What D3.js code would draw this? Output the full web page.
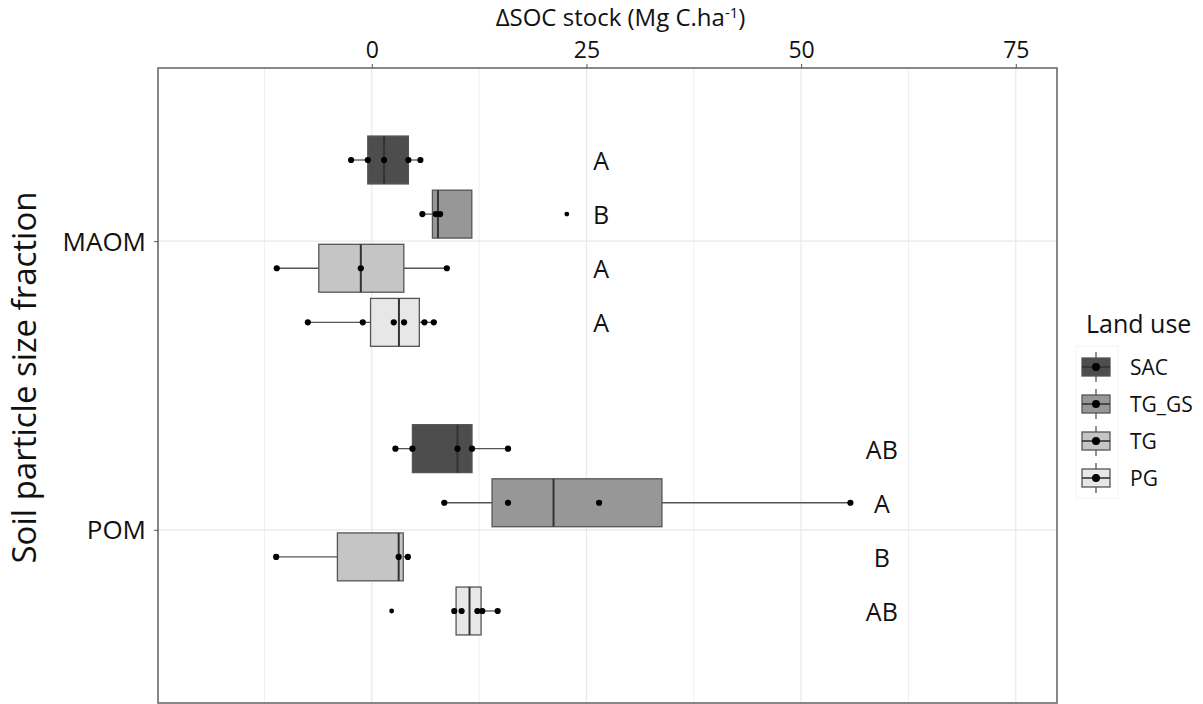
<!DOCTYPE html>
<html><head><meta charset="utf-8">
<script src="https://cdn.jsdelivr.net/npm/d3@7"></script>
<style>
body{margin:0;background:#fff}
text{font-family:"Open Sans","DejaVu Sans",sans-serif;fill:#111}
</style>
</head><body>
<svg id="chart" width="1203" height="704"></svg>
<script>
// ---- data ----
const fractions = ["MAOM", "POM"];
const landUses = ["SAC", "TG_GS", "TG", "PG"];
const fillColors = ["#4d4d4d", "#979797", "#c5c5c5", "#e7e7e7"];
// observed ΔSOC stock values per land use (order = landUses)
const maomValues = [
  [-2.41, -0.47, 1.43, 4.26, 5.66],
  [5.89, 7.45, 7.96, 22.71],
  [-11.07, -1.28, 8.74],
  [-7.45, -1.05, 2.56, 3.76, 6.13, 7.22]
];
const pomValues = [
  [2.75, 4.73, 9.98, 11.67, 15.86],
  [8.44, 15.86, 26.47, 55.74],
  [-11.14, 3.13, 4.2],
  [2.31, 9.6, 10.46, 12.3, 12.87, 14.66]
];
const maomLetters = ["A", "B", "A", "A"];
const pomLetters = ["AB", "A", "B", "AB"];
const letterPositions = [26.7, 59.4];
const xTicks = [0, 25, 50, 75];
const xMinorTicks = [-12.5, 12.5, 37.5, 62.5];
const xDomain = [-24.9, 79.8];

const allValues = [maomValues, pomValues];
const allLetters = [maomLetters, pomLetters];

// ---- layout ----
const svg = d3.select("#chart");
const P = {left: 158, right: 1057, top: 68, bottom: 703};
const x = d3.scaleLinear().domain(xDomain).range([P.left, P.right]);
const y = d3.scaleLinear().domain([0.4, 2.6]).range([P.top, P.bottom]);
const dodge = 0.1875, boxHalf = 0.083;

// grid
const grid = svg.append("g");
grid.selectAll(".vmin").data(xMinorTicks).enter().append("line")
  .attr("x1", d => x(d)).attr("x2", d => x(d)).attr("y1", P.top).attr("y2", P.bottom)
  .attr("stroke", "#efefef").attr("stroke-width", 1);
grid.selectAll(".vmaj").data(xTicks).enter().append("line")
  .attr("x1", d => x(d)).attr("x2", d => x(d)).attr("y1", P.top).attr("y2", P.bottom)
  .attr("stroke", "#e8e8e8").attr("stroke-width", 1.2);
grid.selectAll(".hmaj").data([1, 2]).enter().append("line")
  .attr("x1", P.left).attr("x2", P.right).attr("y1", d => y(d)).attr("y2", d => y(d))
  .attr("stroke", "#e8e8e8").attr("stroke-width", 1.2);

// boxes
const marks = svg.append("g");
allValues.forEach((groups, fi) => {
  groups.forEach((vals, gi) => {
    const s = vals.slice().sort(d3.ascending);
    const q1 = d3.quantileSorted(s, 0.25), med = d3.quantileSorted(s, 0.5), q3 = d3.quantileSorted(s, 0.75);
    const iqr = q3 - q1;
    const inside = s.filter(v => v >= q1 - 1.5 * iqr && v <= q3 + 1.5 * iqr);
    const lo = d3.min(inside), hi = d3.max(inside);
    const outliers = s.filter(v => v < q1 - 1.5 * iqr || v > q3 + 1.5 * iqr);
    const c = fi + 1 + (gi - 1.5) * dodge;
    const yc = y(c), y0 = y(c - boxHalf), y1 = y(c + boxHalf);
    const g = marks.append("g");
    g.append("line").attr("x1", x(lo)).attr("x2", x(q1)).attr("y1", yc).attr("y2", yc)
      .attr("stroke", "#555").attr("stroke-width", 1.3);
    g.append("line").attr("x1", x(q3)).attr("x2", x(hi)).attr("y1", yc).attr("y2", yc)
      .attr("stroke", "#555").attr("stroke-width", 1.3);
    g.append("rect").attr("x", x(q1)).attr("y", y0).attr("width", x(q3) - x(q1)).attr("height", y1 - y0)
      .attr("fill", fillColors[gi]).attr("stroke", "#555").attr("stroke-width", 1.3);
    g.append("line").attr("x1", x(med)).attr("x2", x(med)).attr("y1", y0).attr("y2", y1)
      .attr("stroke", "#333").attr("stroke-width", 2);
    g.selectAll(".out").data(outliers).enter().append("circle")
      .attr("cx", d => x(d)).attr("cy", yc).attr("r", 2.4).attr("fill", "#000");
    g.selectAll(".pt").data(vals.filter(v => !outliers.includes(v))).enter().append("circle")
      .attr("cx", d => x(d)).attr("cy", yc).attr("r", 3.1).attr("fill", "#000");
    svg.append("text").attr("x", x(letterPositions[fi])).attr("y", yc)
      .attr("text-anchor", "middle").attr("dominant-baseline", "central")
      .style("font-size", "25px").text(allLetters[fi][gi]);
  });
});

// border
svg.append("rect").attr("x", P.left).attr("y", P.top).attr("width", P.right - P.left).attr("height", P.bottom - P.top)
  .attr("fill", "none").attr("stroke", "#6a6a6a").attr("stroke-width", 1.6);

// axes
const xAxis = svg.append("g").attr("transform", `translate(0,${P.top})`)
  .call(d3.axisTop(x).tickValues(xTicks).tickSize(4).tickPadding(6));
xAxis.select(".domain").remove();
xAxis.selectAll("line").attr("stroke", "#555");
xAxis.selectAll("text").style("font-size", "23px").attr("fill", "#111");

const yAxis = svg.append("g").attr("transform", `translate(${P.left},0)`)
  .call(d3.axisLeft(y).tickValues([1, 2]).tickFormat(d => fractions[d - 1]).tickSize(4).tickPadding(8));
yAxis.select(".domain").remove();
yAxis.selectAll("line").attr("stroke", "#555");
yAxis.selectAll("text").style("font-size", "26px").attr("fill", "#111").attr("dy", "0.35em");

// titles
const xt = svg.append("text").attr("x", (P.left + P.right) / 2 + 13).attr("y", 26)
  .attr("text-anchor", "middle").style("font-size", "24px");
xt.append("tspan").text("ΔSOC stock (Mg C.ha");
xt.append("tspan").attr("dy", -8).style("font-size", "15px").text("-1");
xt.append("tspan").attr("dy", 8).text(")");

svg.append("text").attr("transform", `translate(36,${(P.top + P.bottom) / 2 - 8}) rotate(-90)`)
  .attr("text-anchor", "middle").style("font-size", "33px").text("Soil particle size fraction");

// legend
const ly = d3.scalePoint().domain(landUses).range([367, 478]);
const lg = svg.append("g");
lg.append("text").attr("x", 1086).attr("y", 333).style("font-size", "25px").text("Land use");
lg.append("rect").attr("x", 1076).attr("y", 346).attr("width", 42).attr("height", 152)
  .attr("fill", "none").attr("stroke", "#f3f3f3");
landUses.forEach((lu, i) => {
  const cy = ly(lu), cx = 1096;
  lg.append("line").attr("x1", cx).attr("x2", cx).attr("y1", cy - 15).attr("y2", cy + 15)
    .attr("stroke", "#555").attr("stroke-width", 1.3);
  lg.append("rect").attr("x", cx - 14).attr("y", cy - 9).attr("width", 28).attr("height", 18)
    .attr("fill", fillColors[i]).attr("stroke", "#555").attr("stroke-width", 1.3);
  lg.append("line").attr("x1", cx - 14).attr("x2", cx + 14).attr("y1", cy).attr("y2", cy)
    .attr("stroke", "#333").attr("stroke-width", 1.6);
  lg.append("circle").attr("cx", cx).attr("cy", cy).attr("r", 4).attr("fill", "#000");
  lg.append("text").attr("x", 1130).attr("y", cy).attr("dominant-baseline", "central")
    .style("font-size", "21px").text(lu);
});
</script>
</body></html>
